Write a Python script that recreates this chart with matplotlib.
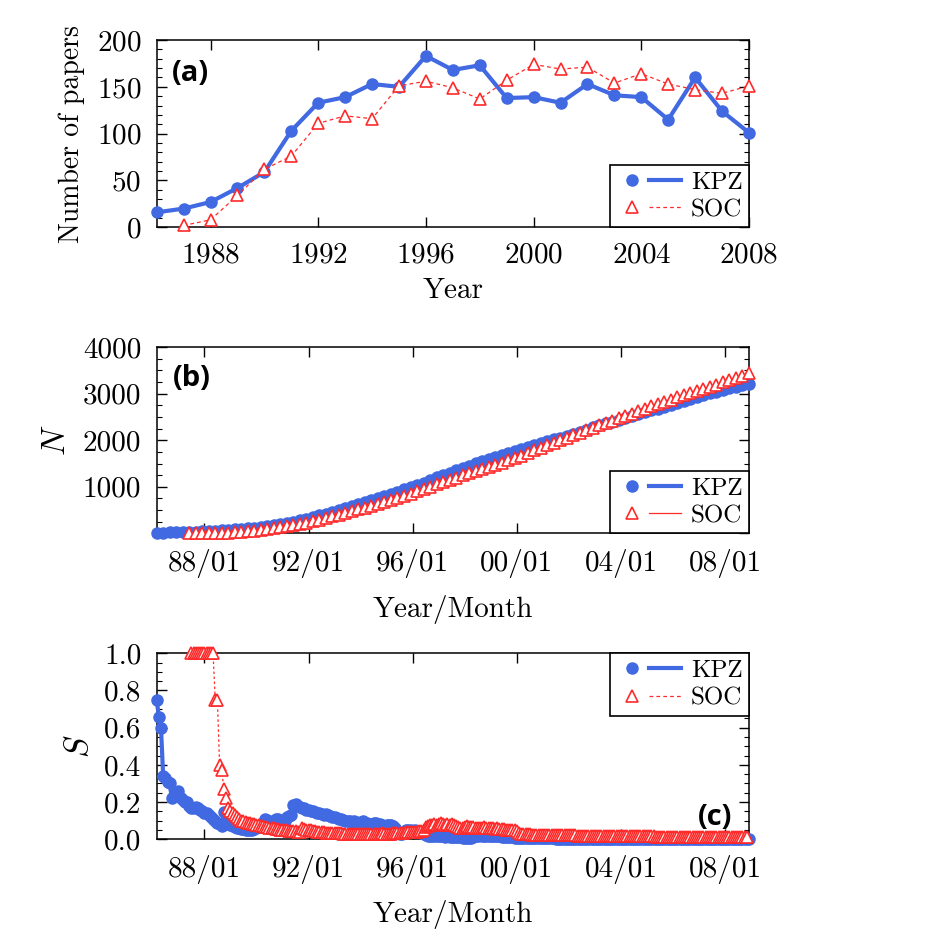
import numpy as np
import matplotlib
matplotlib.use('Agg')
import matplotlib.pyplot as plt
from matplotlib.lines import Line2D
from matplotlib.legend_handler import HandlerTuple
from matplotlib.ticker import MultipleLocator, FuncFormatter

plt.rcParams['font.family'] = 'serif'
plt.rcParams['font.serif'] = ['cmr10']
plt.rcParams['mathtext.fontset'] = 'cm'
plt.rcParams['axes.unicode_minus'] = False
plt.rcParams['axes.formatter.use_mathtext'] = True

BLUE = '#4169e1'
RED = '#ff2a2a'

# ---- (a) papers per year
years_kpz = list(range(1986, 2009))
kpz_year = [16, 20, 27, 42, 59, 103, 133, 139, 153, 150, 183, 168, 173, 138, 139, 133,
            153, 141, 139, 115, 160, 124, 101]
years_soc = list(range(1987, 2009))
soc_year = [2, 8, 34, 62, 76, 111, 119, 116, 151, 156, 149, 137, 157, 174, 169, 171,
            154, 164, 153, 147, 143, 151]

# ---- (b) cumulative N, one value per quarter starting 1986/03 (SOC from 1987/06)
kpz_n = [12, 15, 18, 21, 23, 29, 34, 40, 48, 56, 65, 73, 84, 96, 109, 121,
         137, 154, 172, 189, 215, 246, 276, 307, 344, 383, 423, 463, 504, 545, 586, 627,
         671, 716, 762, 807, 852, 896, 941, 985, 1036, 1091, 1145, 1200, 1251, 1301, 1351, 1400,
         1451, 1502, 1554, 1605, 1650, 1691, 1732, 1773, 1815, 1856, 1897, 1938,
         1978, 2018, 2057, 2097, 2140, 2186, 2231, 2277, 2320, 2362, 2403, 2445,
         2487, 2528, 2569, 2610, 2647, 2681, 2715, 2749, 2792, 2839, 2886, 2933,
         2973, 3010, 3046, 3083, 3117, 3149, 3182, 3214]
soc_n = [1, 2, 3, 5, 7, 10, 12, 20, 31, 42, 53, 70, 90, 110, 129, 152, 177, 201, 226,
         258, 293, 329, 364, 401, 439, 477, 514, 552, 589, 626, 664, 708, 756, 805, 853,
         902, 952, 1002, 1052, 1101, 1149, 1196, 1244, 1289, 1333, 1376, 1420,
         1468, 1518, 1568, 1618, 1672, 1728, 1783, 1839, 1893, 1947, 2001, 2055,
         2109, 2163, 2218, 2272, 2323, 2372, 2421, 2471, 2522, 2574, 2626, 2678,
         2727, 2776, 2824, 2873, 2920, 2967, 3014, 3060, 3107, 3152, 3198, 3244,
         3292, 3342, 3392, 3455]

# ---- (c) S, one value per month starting 1986/03 (SOC from 1987/07)
kpz_s = [0.75, 0.66, 0.60, 0.34, 0.33, 0.31, 0.30, 0.22, 0.23, 0.25, 0.26, 0.22,
         0.21, 0.20, 0.20, 0.18, 0.17, 0.17, 0.175, 0.17, 0.16, 0.15, 0.14, 0.14,
         0.13, 0.12, 0.11, 0.10, 0.09, 0.08, 0.07, 0.145, 0.09, 0.08, 0.075, 0.07,
         0.065, 0.06, 0.058, 0.055, 0.053, 0.05, 0.05, 0.05, 0.052, 0.055, 0.06, 0.068,
         0.08, 0.09, 0.11, 0.105, 0.10, 0.095, 0.10, 0.11, 0.11, 0.10, 0.095, 0.10,
         0.12, 0.125, 0.13, 0.185, 0.19, 0.18, 0.175, 0.17, 0.17, 0.16, 0.155, 0.15,
         0.15, 0.145, 0.14, 0.14, 0.135, 0.13, 0.135, 0.13, 0.125, 0.12, 0.12, 0.115,
         0.11, 0.11, 0.105, 0.10, 0.10, 0.10, 0.095, 0.10, 0.095, 0.09, 0.095, 0.10,
         0.09, 0.085, 0.08, 0.075, 0.09, 0.085, 0.08, 0.08, 0.075, 0.07, 0.075, 0.077,
         0.075, 0.07, 0.06, 0.04, 0.03, 0.03, 0.04, 0.05, 0.05, 0.05, 0.045, 0.05,
         0.045, 0.04, 0.035, 0.03, 0.025, 0.02, 0.018, 0.02, 0.015, 0.02, 0.018, 0.015,
         0.015, 0.012, 0.015, 0.01, 0.012, 0.01, 0.01, 0.012, 0.01, 0.008, 0.006, 0.005,
         0.005, 0.006, 0.01, 0.015, 0.02, 0.022, 0.02, 0.02, 0.018, 0.02, 0.018, 0.017,
         0.015, 0.016, 0.015, 0.013, 0.012, 0.012, 0.01, 0.01, 0.01, 0.009, 0.008, 0.008,
         0.008, 0.007, 0.007, 0.007, 0.006, 0.006, 0.006, 0.006, 0.005, 0.005, 0.005, 0.005,
         0.005, 0.005, 0.005, 0.005, 0.004, 0.004, 0.004, 0.004, 0.004, 0.004, 0.004, 0.004,
         0.004, 0.004, 0.004, 0.004, 0.004, 0.003, 0.003, 0.003, 0.003, 0.003, 0.003, 0.003,
         0.003, 0.003, 0.003, 0.003, 0.003, 0.003, 0.003, 0.003, 0.003, 0.003, 0.003, 0.003,
         0.003, 0.003, 0.003, 0.003, 0.003, 0.003, 0.003, 0.003, 0.003, 0.003, 0.003, 0.003,
         0.003, 0.003, 0.003, 0.003, 0.003, 0.003, 0.002, 0.002, 0.002, 0.002, 0.002, 0.002,
         0.002, 0.002, 0.002, 0.002, 0.002, 0.002, 0.002, 0.002, 0.002, 0.002, 0.002, 0.002,
         0.002, 0.002, 0.002, 0.002, 0.002, 0.002, 0.002, 0.002, 0.002, 0.002, 0.002, 0.002,
         0.002, 0.002, 0.002, 0.002, 0.002, 0.002, 0.002, 0.002, 0.002, 0.002]
soc_s = [1.0, 1.0, 1.0, 1.0, 1.0, 1.0, 1.0, 1.0,
         1.0, 1.0, 1.0, 0.75, 0.75, 0.40, 0.37, 0.27, 0.22, 0.17, 0.15, 0.14,
         0.13, 0.12, 0.11, 0.10, 0.10, 0.095, 0.09, 0.085, 0.08, 0.08, 0.078, 0.075,
         0.07, 0.07, 0.068, 0.065, 0.06, 0.06, 0.058, 0.055, 0.055, 0.05, 0.05, 0.05,
         0.048, 0.045, 0.045, 0.045, 0.045, 0.04, 0.04, 0.06, 0.055, 0.05, 0.05, 0.048,
         0.045, 0.045, 0.04, 0.04, 0.04, 0.04, 0.035, 0.035, 0.035, 0.035, 0.033, 0.033,
         0.032, 0.032, 0.03, 0.03, 0.03, 0.03, 0.029, 0.03, 0.03, 0.028, 0.03, 0.03,
         0.03, 0.029, 0.028, 0.03, 0.03, 0.03, 0.028, 0.03, 0.032, 0.03, 0.03, 0.03,
         0.03, 0.032, 0.033, 0.033, 0.035, 0.035, 0.035, 0.038, 0.04, 0.04, 0.038, 0.04,
         0.04, 0.042, 0.045, 0.05, 0.068, 0.07, 0.075, 0.078, 0.08, 0.078, 0.08, 0.085,
         0.08, 0.078, 0.08, 0.075, 0.08, 0.078, 0.07, 0.065, 0.063, 0.06, 0.065, 0.07,
         0.068, 0.065, 0.065, 0.063, 0.06, 0.06, 0.062, 0.065, 0.06, 0.058, 0.06, 0.058,
         0.055, 0.058, 0.055, 0.053, 0.055, 0.052, 0.05, 0.052, 0.05, 0.048, 0.045, 0.035,
         0.028, 0.027, 0.027, 0.026, 0.026, 0.025, 0.025, 0.025, 0.025, 0.024, 0.024, 0.024,
         0.024, 0.023, 0.023, 0.023, 0.023, 0.022, 0.022, 0.022, 0.022, 0.021, 0.021, 0.021,
         0.021, 0.021, 0.02, 0.02, 0.02, 0.02, 0.02, 0.02, 0.019, 0.019, 0.019, 0.019,
         0.019, 0.019, 0.018, 0.018, 0.018, 0.018, 0.018, 0.018, 0.017, 0.017, 0.017, 0.017,
         0.017, 0.016, 0.016, 0.016, 0.016, 0.016, 0.016, 0.015, 0.015, 0.015, 0.015, 0.015,
         0.015, 0.015, 0.014, 0.014, 0.014, 0.014, 0.014, 0.014, 0.014, 0.013, 0.013, 0.013,
         0.013, 0.013, 0.013, 0.013, 0.013, 0.013, 0.012, 0.012, 0.012, 0.012, 0.012, 0.012,
         0.012, 0.012, 0.012, 0.012, 0.012, 0.011, 0.011, 0.011, 0.011, 0.011, 0.011, 0.011,
         0.011, 0.011, 0.011, 0.011, 0.011, 0.011, 0.011, 0.011, 0.011]

month_ticks = [1988, 1992, 1996, 2000, 2004, 2008]
month_labels = ['88/01', '92/01', '96/01', '00/01', '04/01', '08/01']

t_kpz_n = 1986 + (2 + 3 * np.arange(len(kpz_n))) / 12
t_soc_n = 1986 + (2 + 15 + 3 * np.arange(len(soc_n))) / 12
t_kpz_s = 1986 + (2 + np.arange(len(kpz_s))) / 12
t_soc_s = 1986 + (2 + 16 + np.arange(len(soc_s))) / 12

MS_O, MS_T, LW = 8, 8.5, 3.0


def legend(ax, soc_style, loc):
    h_kpz = (Line2D([], [], ls='none', marker='o', ms=MS_O, color=BLUE),
             Line2D([], [], ls='-', lw=LW, color=BLUE))
    h_soc = (Line2D([], [], ls='none', marker='^', ms=MS_T, mfc='white', mec=RED, mew=1.2),
             Line2D([], [], color=RED, lw=0.9, ls=soc_style))
    leg = ax.legend([h_kpz, h_soc], ['KPZ', 'SOC'],
                    handler_map={tuple: HandlerTuple(ndivide=None, pad=0)},
                    loc=loc, borderaxespad=0, fancybox=False, edgecolor='black',
                    framealpha=1, fontsize=18, handlelength=2.6, handletextpad=0.4,
                    borderpad=0.25, labelspacing=0.2)
    leg.get_frame().set_linewidth(1.2)


def style(ax):
    ax.tick_params(which='both', direction='in', top=True, right=True, labelsize=21)
    ax.tick_params(which='major', length=7, width=1, pad=11)
    ax.tick_params(which='minor', length=3.5, width=0.8)
    for s in ax.spines.values():
        s.set_linewidth(1.1)


fig = plt.figure(figsize=(9.42, 9.39), dpi=100)
L, W = 0.1663, 0.6288

# (a)
ax1 = fig.add_axes([L, 0.7579, W, 0.1995])
ax1.plot(years_kpz, kpz_year, '-o', color=BLUE, lw=LW, ms=MS_O, clip_on=False, zorder=3)
ax1.plot(years_soc, soc_year, ls=(0, (3, 2.5)), color=RED, lw=0.9, marker='^', ms=MS_T,
         mfc='white', mec=RED, mew=1.2, clip_on=False, zorder=4)
ax1.set_xlim(1986, 2008)
ax1.set_ylim(0, 200)
ax1.set_xticks(range(1988, 2009, 4))
ax1.set_yticks(range(0, 201, 50))
ax1.yaxis.set_minor_locator(MultipleLocator(10))
style(ax1)
ax1.set_xlabel('Year', fontsize=21)
ax1.xaxis.set_label_coords(0.5, -0.27)
ax1.set_ylabel('Number of papers', fontsize=20)
ax1.yaxis.set_label_coords(-0.121, 0.5)
ax1.text(0.025, 0.82, '(a)', transform=ax1.transAxes, fontsize=21, fontweight='bold',
         family='Open Sans', va='center', ha='left')
legend(ax1, (0, (3, 2.5)), 'lower right')

# (b)
ax2 = fig.add_axes([L, 0.4321, W, 0.1981])
ax2.plot(t_kpz_n, kpz_n, '-o', color=BLUE, lw=LW, ms=MS_O, clip_on=False, zorder=3)
ax2.plot(t_soc_n, soc_n, '-', color=RED, lw=0.9, marker='^', ms=MS_T,
         mfc='white', mec=RED, mew=1.2, clip_on=False, zorder=4)
ax2.set_xlim(1986 + 2 / 12, 2008 + 11 / 12)
ax2.set_ylim(0, 4000)
ax2.set_xticks(month_ticks)
ax2.set_xticklabels(month_labels)
ax2.set_yticks(range(0, 4001, 1000))
ax2.yaxis.set_major_formatter(FuncFormatter(lambda v, p: '' if v == 0 else '%d' % v))
ax2.yaxis.set_minor_locator(MultipleLocator(250))
style(ax2)
ax2.set_xlabel('Year/Month', fontsize=21)
ax2.xaxis.set_label_coords(0.5, -0.33)
ax2.set_ylabel('$N$', fontsize=24)
ax2.yaxis.set_label_coords(-0.145, 0.5)
ax2.text(0.028, 0.83, '(b)', transform=ax2.transAxes, fontsize=21, fontweight='bold',
         family='Open Sans', va='center', ha='left')
legend(ax2, '-', 'lower right')

# (c)
ax3 = fig.add_axes([L, 0.1062, W, 0.1981])
ax3.plot(t_kpz_s, kpz_s, '-o', color=BLUE, lw=LW, ms=MS_O, clip_on=False, zorder=3)
ax3.plot(t_soc_s, soc_s, ls=(0, (2, 2)), color=RED, lw=0.9, marker='^', ms=MS_T,
         mfc='white', mec=RED, mew=1.2, clip_on=False, zorder=4)
ax3.set_xlim(1986 + 2 / 12, 2008 + 11 / 12)
ax3.set_ylim(0, 1.0)
ax3.set_xticks(month_ticks)
ax3.set_xticklabels(month_labels)
ax3.set_yticks(np.arange(0, 1.01, 0.2))
ax3.yaxis.set_major_formatter(FuncFormatter(lambda v, p: '%.1f' % v))
ax3.yaxis.set_minor_locator(MultipleLocator(0.05))
style(ax3)
ax3.set_xlabel('Year/Month', fontsize=21)
ax3.xaxis.set_label_coords(0.5, -0.325)
ax3.set_ylabel('$S$', fontsize=24)
ax3.yaxis.set_label_coords(-0.106, 0.5)
ax3.text(0.972, 0.118, '(c)', transform=ax3.transAxes, fontsize=21, fontweight='bold',
         family='Open Sans', va='center', ha='right')
legend(ax3, (0, (3, 2.5)), 'upper right')

fig.savefig('out.png', dpi=100)
